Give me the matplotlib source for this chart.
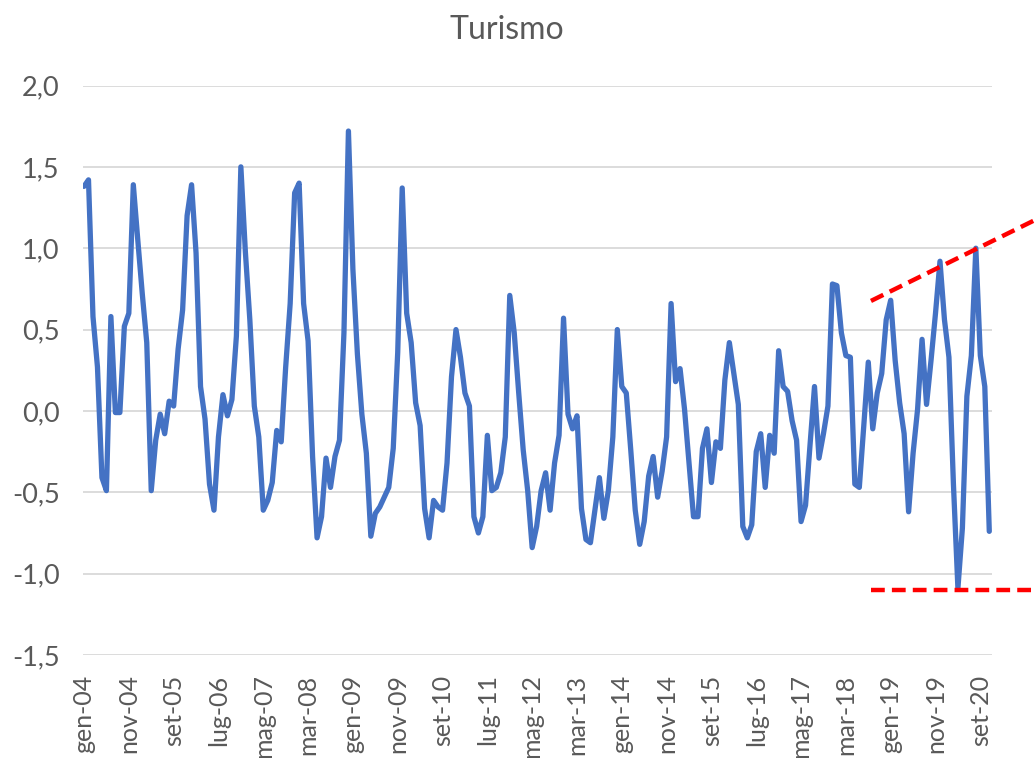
import matplotlib.pyplot as plt
import numpy as np

plt.rcParams['font.family'] = ['Lato', 'DejaVu Sans']

# serie mensile, gen-04 .. nov-20
turismo = [
    1.38, 1.42, 0.58, 0.27, -0.41, -0.49, 0.58, -0.01, -0.01, 0.52,
    0.60, 1.39, 1.05, 0.72, 0.42, -0.49, -0.18, -0.02, -0.14, 0.06,
    0.03, 0.38, 0.62, 1.20, 1.39, 0.97, 0.15, -0.05, -0.45, -0.61,
    -0.16, 0.10, -0.03, 0.07, 0.46, 1.50, 0.98, 0.56, 0.03, -0.16,
    -0.61, -0.55, -0.44, -0.12, -0.19, 0.27, 0.66, 1.34, 1.40, 0.66,
    0.43, -0.28, -0.78, -0.65, -0.29, -0.47, -0.28, -0.18, 0.48, 1.72,
    0.87, 0.35, -0.02, -0.26, -0.77, -0.63, -0.59, -0.53, -0.47, -0.23,
    0.36, 1.37, 0.60, 0.42, 0.05, -0.09, -0.60, -0.78, -0.55, -0.59,
    -0.61, -0.32, 0.21, 0.50, 0.33, 0.11, 0.03, -0.65, -0.75, -0.65,
    -0.15, -0.49, -0.47, -0.38, -0.16, 0.71, 0.48, 0.11, -0.24, -0.49,
    -0.84, -0.71, -0.49, -0.38, -0.61, -0.32, -0.15, 0.57, -0.02, -0.11,
    -0.03, -0.60, -0.79, -0.81, -0.61, -0.41, -0.66, -0.49, -0.16, 0.50,
    0.15, 0.11, -0.24, -0.61, -0.82, -0.68, -0.40, -0.28, -0.53, -0.37,
    -0.16, 0.66, 0.18, 0.26, 0.01, -0.32, -0.65, -0.65, -0.23, -0.11,
    -0.44, -0.19, -0.23, 0.19, 0.42, 0.23, 0.04, -0.71, -0.78, -0.70,
    -0.25, -0.14, -0.47, -0.15, -0.26, 0.37, 0.15, 0.12, -0.06, -0.18,
    -0.68, -0.58, -0.21, 0.15, -0.29, -0.14, 0.03, 0.78, 0.77, 0.48,
    0.34, 0.33, -0.45, -0.47, -0.09, 0.30, -0.11, 0.11, 0.23, 0.56,
    0.68, 0.31, 0.05, -0.14, -0.62, -0.26, 0.01, 0.44, 0.04, 0.31,
    0.60, 0.92, 0.56, 0.33, -0.45, -1.09, -0.72, 0.09, 0.34, 1.00,
    0.34, 0.15, -0.74,
]

# etichette asse x (una ogni 10 mesi)
x_labels = ['gen-04', 'nov-04', 'set-05', 'lug-06', 'mag-07', 'mar-08', 'gen-09',
            'nov-09', 'set-10', 'lug-11', 'mag-12', 'mar-13', 'gen-14', 'nov-14',
            'set-15', 'lug-16', 'mag-17', 'mar-18', 'gen-19', 'nov-19', 'set-20']
y_ticks = [-1.5, -1.0, -0.5, 0.0, 0.5, 1.0, 1.5, 2.0]
y_labels = ['-1,5', '-1,0', '-0,5', '0,0', '0,5', '1,0', '1,5', '2,0']

# linee rosse tratteggiate (annotazione)
trend_x = [175.6, 212.4]
trend_y = [0.676, 1.176]
floor_x = [175.6, 212.4]
floor_y = [-1.10, -1.10]

W, H = 1036, 758
fig = plt.figure(figsize=(W / 100, H / 100), dpi=100)
ax = fig.add_axes([83.3 / W, 1 - 655 / H, (991.7 - 83.3) / W, (655 - 85.5) / H])

x = np.arange(len(turismo))
ax.plot(x, turismo, color='#4472C4', lw=3.8, solid_joinstyle='round',
        solid_capstyle='round', zorder=3)

ax.set_xlim(-0.16, len(turismo) - 1 + 0.54)
ax.set_ylim(-1.5, 2.0)
ax.set_yticks(y_ticks)
ax.set_yticklabels(y_labels, fontsize=19.5)
ax.set_xticks(np.arange(0, len(turismo), 10)[:len(x_labels)])
ax.set_xticklabels(x_labels, rotation=90, fontsize=18)

ax.grid(axis='y', color='#D9D9D9', lw=1.3)
ax.set_axisbelow(True)
for s in ax.spines.values():
    s.set_visible(False)
ax.tick_params(length=0, colors='#595959')
ax.tick_params(axis='y', pad=17)
ax.tick_params(axis='x', pad=14)

fig.text(507 / W, 1 - 30 / H, 'Turismo', ha='center', va='center',
         fontsize=23, color='#595959')

ax.plot(trend_x, trend_y, color='red', lw=3.2, ls=(0, (3.1, 1.6)), clip_on=False, zorder=4)
ax.plot(floor_x, floor_y, color='red', lw=3.2, ls=(0, (3.1, 1.6)), clip_on=False, zorder=4)

fig.savefig('out.png', dpi=100)
